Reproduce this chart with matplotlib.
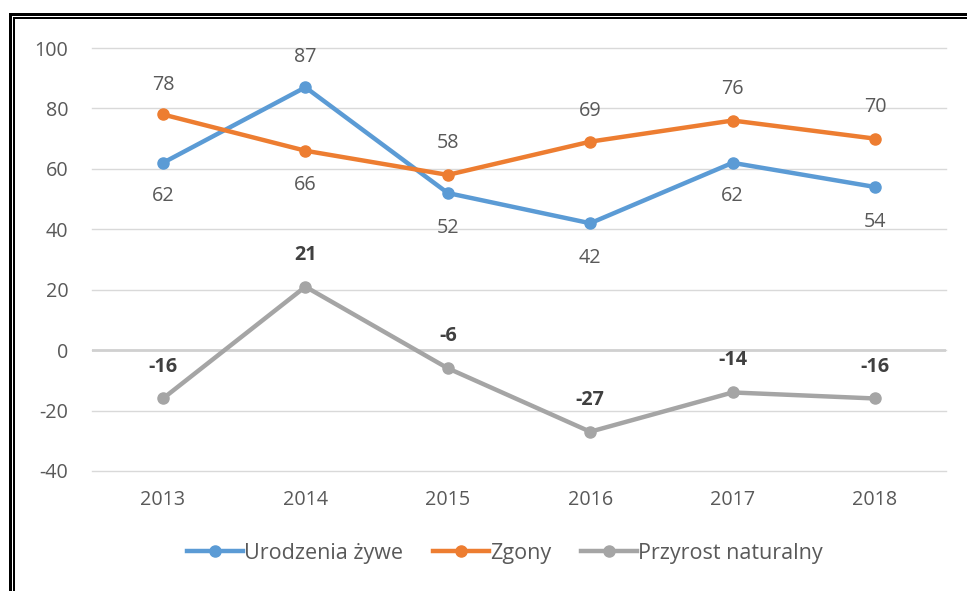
import matplotlib
matplotlib.use("Agg")
import matplotlib.pyplot as plt
from matplotlib.lines import Line2D
from matplotlib.patches import Rectangle

plt.rcParams['font.family'] = ['Open Sans', 'DejaVu Sans']
plt.rcParams['axes.unicode_minus'] = False

years = ["2013", "2014", "2015", "2016", "2017", "2018"]
urodzenia = [62, 87, 52, 42, 62, 54]
zgony = [78, 66, 58, 69, 76, 70]
przyrost = [-16, 21, -6, -27, -14, -16]
series_names = ["Urodzenia żywe", "Zgony", "Przyrost naturalny"]
yticks = [-40, -20, 0, 20, 40, 60, 80, 100]

blue = "#5B9BD5"
orange = "#ED7D31"
gray = "#A5A5A5"
txt = "#595959"
FS = 14.2
LFS = 15.5

W, H = 967, 591
fig = plt.figure(figsize=(W / 100, H / 100), dpi=100)
ax = fig.add_axes([91.8 / W, 1 - 471 / H, (946.2 - 91.8) / W, (471 - 48) / H])

x = list(range(len(years)))
for vals, c in ((urodzenia, blue), (zgony, orange), (przyrost, gray)):
    ax.plot(x, vals, color=c, lw=3.2, marker='o', ms=8, solid_capstyle='round',
            solid_joinstyle='round', zorder=3)

ax.set_xlim(-0.5, len(years) - 0.5)
ax.set_ylim(-40, 100)
ax.set_yticks(yticks)
ax.set_xticks(x)
ax.set_xticklabels(years)
for s in ax.spines.values():
    s.set_visible(False)
ax.grid(axis='y', color='#D9D9D9', lw=1)
for gl in ax.get_ygridlines():
    gl.set_clip_on(False)
ax.set_axisbelow(True)
ax.axhline(0, color='#D0D0D0', lw=2, zorder=1)
ax.tick_params(length=0, labelsize=FS, labelcolor=txt)
ax.tick_params(axis='y', pad=17)
ax.tick_params(axis='x', pad=14)

# label positions: offsets in points (positive = above)
uro_off = [-24, 22, -25, -25, -24, -25]
zg_off = [21, -25, 23, 22, 23, 23]
for i in x:
    ax.annotate(str(urodzenia[i]), (i, urodzenia[i]), xytext=(0, uro_off[i]),
                textcoords='offset points', ha='center', va='center', fontsize=FS, color=txt)
    ax.annotate(str(zgony[i]), (i, zgony[i]), xytext=(0, zg_off[i]),
                textcoords='offset points', ha='center', va='center', fontsize=FS, color=txt)
    ax.annotate(str(przyrost[i]), (i, przyrost[i]), xytext=(0, 23),
                textcoords='offset points', ha='center', va='center', fontsize=FS,
                color='#404040', fontweight='bold')

handles = [Line2D([0], [0], color=c, lw=3.2, marker='o', ms=8) for c in (blue, orange, gray)]
fig.legend(handles, series_names, loc='center', bbox_to_anchor=(505 / W, 1 - 553 / H),
           ncol=3, frameon=False, fontsize=LFS, labelcolor=txt, handlelength=2.6,
           handletextpad=0.05, columnspacing=1.4)

# double frame (top and left), pixel-aligned
def px_rect(x0, y0, x1, y1):
    fig.add_artist(Rectangle((x0 / W, 1 - y1 / H), (x1 - x0) / W, (y1 - y0) / H,
                             transform=fig.transFigure, facecolor='black',
                             edgecolor='none', antialiased=False))

px_rect(9, 13, W, 16)
px_rect(13, 17, W, 19)
px_rect(9, 13, 12, H)
px_rect(13, 17, 15, H)

fig.savefig("out.png", dpi=100, facecolor='white')
